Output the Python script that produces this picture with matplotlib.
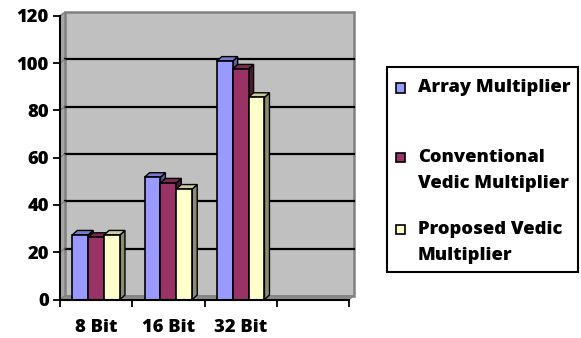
import matplotlib.pyplot as plt
from matplotlib.patches import Polygon, Rectangle

# categories and series
bits = ["8 Bit", "16 Bit", "32 Bit"]
series_names = ["Array Multiplier", "Conventional\nVedic Multiplier", "Proposed Vedic\nMultiplier"]
array_mult = [27.3, 51.7, 100.8]
conventional_vedic = [26.3, 49.3, 97.5]
proposed_vedic = [27.3, 46.7, 85.5]

front_cols = ["#9999FF", "#993366", "#FFFFCC"]
side_cols = ["#5C5C99", "#4D1A33", "#8C8C70"]
top_cols = ["#7A7ACC", "#7A2952", "#CCCCA3"]

FONT = "Open Sans"
FS = 13.2
FW = 800
W, H = 581, 338

fig = plt.figure(figsize=(W / 100, H / 100), dpi=100)
x0, x1 = 60.0, 349.0
y0, y1 = 299.5, 15.7
ax = fig.add_axes([x0 / W, 1 - y0 / H, (x1 - x0) / W, (y0 - y1) / H])
n_slots = 4
ymax = 120
ax.set_xlim(0, n_slots)
ax.set_ylim(0, ymax)

# pixel -> data unit conversions
ux = n_slots / (x1 - x0)
uy = ymax / (y0 - y1)

# back wall offset (depth of the 3-D box)
wdx, wdy = 5 * ux, 3.5 * uy
# bar depth
bdx, bdy = 5 * ux, 4.5 * uy

# back wall
ax.add_patch(Polygon([(wdx, wdy), (n_slots + wdx, wdy), (n_slots + wdx, ymax + wdy), (wdx, ymax + wdy)],
                     closed=True, facecolor="#C0C0C0", edgecolor="#808080", lw=1.8, zorder=0, clip_on=False))
# left wall
ax.add_patch(Polygon([(0, 0), (wdx, wdy), (wdx, ymax + wdy), (0, ymax)],
                     closed=True, facecolor="#A6A6A6", edgecolor="#808080", lw=1.0, zorder=0.5, clip_on=False))
# floor
ax.add_patch(Polygon([(0, 0), (n_slots, 0), (n_slots + wdx, wdy), (wdx, wdy)],
                     closed=True, facecolor="#8C8C8C", edgecolor="#808080", lw=0.8, zorder=0.5, clip_on=False))
# gridlines on the back wall
for v in range(20, ymax, 20):
    ax.plot([wdx, n_slots + wdx], [v + wdy, v + wdy], color="black", lw=1.6, zorder=1, clip_on=False)
    ax.plot([0, wdx], [v, v + wdy], color="#808080", lw=0.8, zorder=1, clip_on=False)

# bars with side and top faces
bw = 0.22
values = [array_mult, conventional_vedic, proposed_vedic]
for c in range(len(bits)):
    for s, vals in enumerate(values):
        left = c + 0.5 + (s - 1.5) * bw
        v = vals[c]
        zb = 2 + c * 3 + s
        side = Polygon([(left + bw, 0), (left + bw + bdx, bdy), (left + bw + bdx, v + bdy), (left + bw, v)],
                       closed=True, facecolor=side_cols[s], edgecolor="black", lw=1.0, zorder=zb)
        top = Polygon([(left, v), (left + bw, v), (left + bw + bdx, v + bdy), (left + bdx, v + bdy)],
                      closed=True, facecolor=top_cols[s], edgecolor="black", lw=1.0, zorder=zb)
        ax.add_patch(side)
        ax.add_patch(top)
        ax.bar(left, v, width=bw, align="edge", color=front_cols[s], edgecolor="black", lw=1.2, zorder=zb + 0.5)

# axes styling
for sp in ["top", "right"]:
    ax.spines[sp].set_visible(False)
ax.spines["left"].set_linewidth(1.5)
ax.spines["bottom"].set_linewidth(1.5)
ax.spines["left"].set_zorder(20)
ax.spines["bottom"].set_zorder(20)
ax.patch.set_visible(False)

ax.set_yticks(range(0, ymax + 1, 20))
ax.set_yticklabels([str(v) for v in range(0, ymax + 1, 20)], fontfamily=FONT, fontweight=FW, fontsize=FS)
ax.tick_params(axis="y", direction="out", length=5, width=1.3, pad=3)

ax.set_xticks(range(0, n_slots + 1))
ax.set_xticklabels([])
ax.tick_params(axis="x", which="major", direction="out", length=5, width=1.3)
ax.set_xticks([i + 0.5 for i in range(len(bits))], minor=True)
ax.set_xticklabels(bits, minor=True, fontfamily=FONT, fontweight=FW, fontsize=FS)
ax.tick_params(axis="x", which="minor", length=0, pad=14)

# legend box drawn in figure pixels
fig.patches.append(Rectangle((386.7 / W, 1 - 271.7 / H), (578 - 386.7) / W, (271.7 - 66.7) / H,
                             transform=fig.transFigure, facecolor="white", edgecolor="black", lw=1.5))
entry_y = [88, 157.5, 229.5]
for s, name in enumerate(series_names):
    yy = entry_y[s]
    fig.patches.append(Rectangle((395.5 / W, 1 - (yy + 4.5) / H), 9 / W, 9 / H, transform=fig.transFigure,
                                 facecolor=front_cols[s], edgecolor="black", lw=1.2))
    for k, line in enumerate(name.split("\n")):
        fig.text(418 / W, 1 - (yy + k * 26) / H, line, ha="left", va="center",
                 fontfamily=FONT, fontweight=FW, fontsize=FS)

fig.savefig("out.png", dpi=100)
